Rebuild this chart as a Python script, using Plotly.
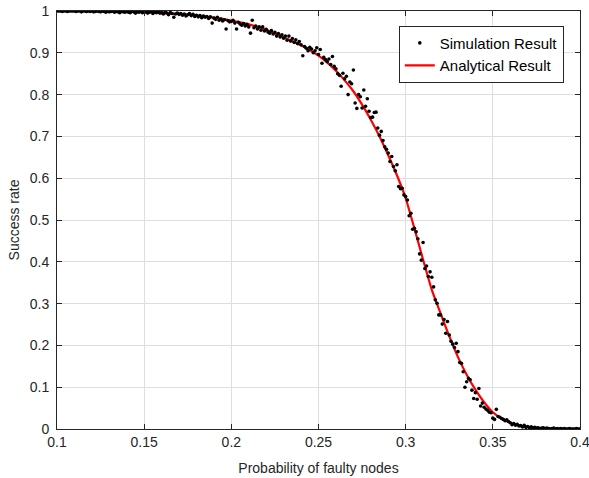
import numpy as np
import plotly.graph_objects as go

# Analytical curve
ana_x = [0.10, 0.12, 0.14, 0.15, 0.16, 0.17, 0.18, 0.19, 0.20, 0.21, 0.22, 0.23,
         0.24, 0.25, 0.26, 0.265, 0.27, 0.275, 0.28, 0.285, 0.29, 0.295, 0.30,
         0.305, 0.31, 0.315, 0.32, 0.325, 0.33, 0.335, 0.34, 0.345, 0.35, 0.355,
         0.36, 0.365, 0.37, 0.375, 0.38, 0.39, 0.40]
ana_y = [1.0, 0.9995, 0.998, 0.997, 0.995, 0.993, 0.989, 0.984, 0.977, 0.968, 0.955, 0.937,
         0.918, 0.893, 0.857, 0.834, 0.808, 0.776, 0.74, 0.70, 0.655, 0.607, 0.552,
         0.48, 0.405, 0.333, 0.277, 0.222, 0.172, 0.13, 0.094, 0.064, 0.040, 0.025,
         0.015, 0.009, 0.005, 0.003, 0.0015, 0.0004, 0.0001]

# Simulation results at p = 0.100, 0.101, ..., 0.400
sim_x = np.round(np.arange(0.100, 0.4005, 0.001), 3)
sim_y = [
    1, 1, 1, 0.999, 1, 1, 0.999, 1, 1, 1,
    1, 0.999, 1, 1, 0.998, 1, 1, 0.999, 1, 0.999,
    1, 0.998, 0.999, 1, 0.999, 0.998, 1, 0.999, 0.997, 0.999,
    0.998, 0.999, 1, 0.997, 0.999, 0.998, 0.996, 0.999, 0.998, 0.997,
    0.999, 0.997, 0.996, 0.999, 0.998, 0.995, 0.998, 0.997, 0.999, 0.996,
    0.997, 0.998, 0.995, 0.997, 0.999, 0.994, 0.997, 0.996, 0.998, 0.995,
    0.996, 0.993, 0.997, 0.995, 0.991, 0.996, 0.994, 0.985, 0.993, 0.995,
    0.992, 0.994, 0.990, 0.993, 0.988, 0.991, 0.994, 0.989, 0.992, 0.987,
    0.990, 0.986, 0.989, 0.984, 0.988, 0.985, 0.987, 0.982, 0.986, 0.971,
    0.983, 0.980, 0.985, 0.978, 0.981, 0.976, 0.979, 0.957, 0.977, 0.974,
    0.975, 0.978, 0.971, 0.957, 0.973, 0.969, 0.966, 0.970, 0.964, 0.968,
    0.962, 0.947, 0.978, 0.960, 0.964, 0.957, 0.962, 0.954, 0.962, 0.952,
    0.956, 0.950, 0.947, 0.953, 0.945, 0.949, 0.940, 0.946, 0.938, 0.943,
    0.935, 0.940, 0.930, 0.940, 0.928, 0.934, 0.925, 0.931, 0.922, 0.927,
    0.919, 0.893, 0.915, 0.911, 0.905, 0.913, 0.909, 0.900, 0.905, 0.912,
    0.896, 0.908, 0.875, 0.889, 0.884, 0.879, 0.885, 0.872, 0.891, 0.868,
    0.862, 0.850, 0.846, 0.820, 0.851, 0.838, 0.844, 0.800, 0.830, 0.826,
    0.859, 0.780, 0.767, 0.800, 0.795, 0.768, 0.811, 0.772, 0.790, 0.760,
    0.745, 0.746, 0.757, 0.758, 0.720, 0.703, 0.712, 0.690, 0.675, 0.669,
    0.660, 0.640, 0.652, 0.628, 0.618, 0.632, 0.580, 0.575, 0.576, 0.560,
    0.556, 0.548, 0.510, 0.516, 0.478, 0.480, 0.472, 0.455, 0.419, 0.404,
    0.446, 0.384, 0.390, 0.365, 0.376, 0.363, 0.340, 0.309, 0.301, 0.273,
    0.273, 0.251, 0.262, 0.229, 0.257, 0.225, 0.210, 0.203, 0.195, 0.205,
    0.185, 0.159, 0.157, 0.137, 0.100, 0.113, 0.121, 0.118, 0.093, 0.073,
    0.087, 0.071, 0.097, 0.055, 0.062, 0.052, 0.048, 0.045, 0.040, 0.039,
    0.026, 0.023, 0.047, 0.030, 0.028, 0.025, 0.023, 0.020, 0.022, 0.018,
    0.015, 0.010, 0.013, 0.009, 0.011, 0.007, 0.008, 0.005, 0.009, 0.004,
    0.006, 0.003, 0.005, 0.002, 0.004, 0.002, 0.003, 0.001, 0.002, 0.003,
    0.001, 0.002, 0.001, 0.000, 0.001, 0.002, 0.000, 0.001, 0.000, 0.001,
    0.000, 0.001, 0.000, 0.000, 0.001, 0.000, 0.000, 0.000, 0.001, 0.000,
    0.000,
]

x_ticks = [0.1, 0.15, 0.2, 0.25, 0.3, 0.35, 0.4]
y_ticks = [0, 0.1, 0.2, 0.3, 0.4, 0.5, 0.6, 0.7, 0.8, 0.9, 1]

FONT = "Liberation Sans, Arial, Helvetica, sans-serif"
AX = "#262626"
GRID = "#dedede"

fig = go.Figure()
fig.add_trace(go.Scatter(
    x=ana_x, y=ana_y, mode="lines", name="Analytical Result",
    line=dict(color="#ff0000", width=2.2, shape="spline", smoothing=0.6),
    legendrank=2,
))
fig.add_trace(go.Scatter(
    x=sim_x, y=sim_y, mode="markers", name="Simulation Result",
    marker=dict(color="#000000", size=3.6),
    legendrank=1,
))

axis_common = dict(
    showgrid=True, gridcolor=GRID, gridwidth=1,
    showline=True, linecolor=AX, linewidth=1, mirror="ticks",
    ticks="inside", ticklen=5, tickcolor=AX, tickwidth=1,
    zeroline=False, automargin=False, ticklabeloverflow="allow",
    tickfont=dict(family=FONT, size=14, color=AX),
    title_font=dict(family=FONT, size=14, color=AX),
)

fig.update_layout(
    width=589, height=478,
    margin=dict(l=57, r=9, t=11, b=49),
    paper_bgcolor="white", plot_bgcolor="white",
    font=dict(family=FONT, size=14, color=AX),
    showlegend=True,
    legend=dict(
        x=0.969, y=0.965, xanchor="right", yanchor="top",
        bgcolor="white", bordercolor=AX, borderwidth=1,
        font=dict(family=FONT, size=15, color="#000000"),
        tracegroupgap=0, itemwidth=30,
    ),
    xaxis=dict(range=[0.1, 0.4], tickvals=x_ticks,
               ticktext=[str(v) for v in x_ticks],
               title=dict(text="Probability of faulty nodes", standoff=14),
               **axis_common),
    yaxis=dict(range=[0, 1], tickvals=y_ticks,
               ticktext=[str(v) for v in y_ticks],
               ticklabelstandoff=4,
               title=dict(text="Success rate", standoff=6),
               **axis_common),
)

fig.write_html(
    "out.html",
    config={"displayModeBar": False},
    post_script="document.body.style.margin='0';document.body.style.overflow='hidden';",
)
